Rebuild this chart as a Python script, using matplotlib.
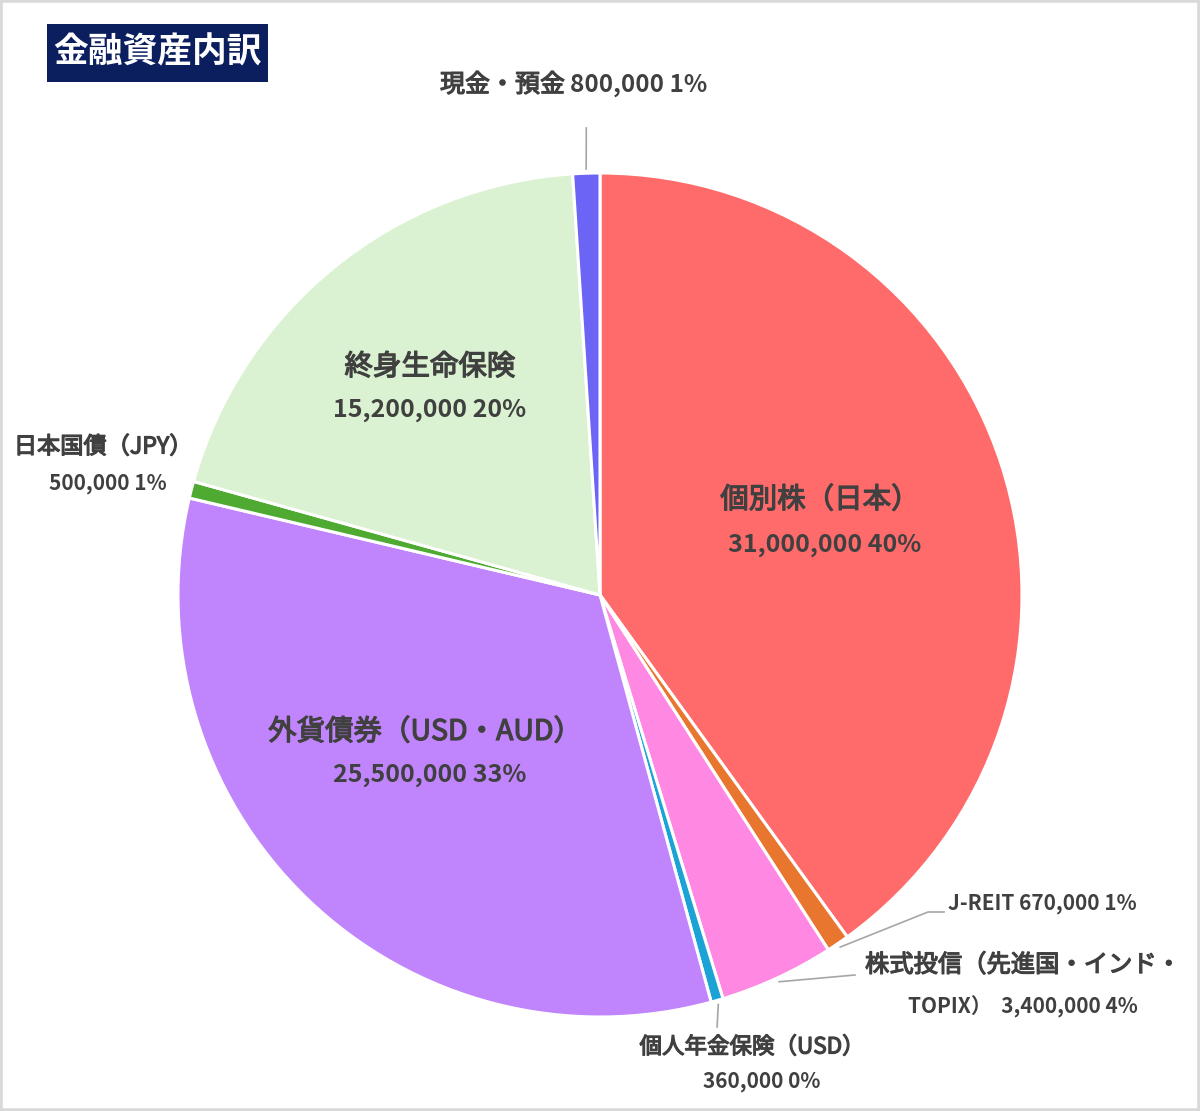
import numpy as np
import matplotlib
matplotlib.use("Agg")
import matplotlib.pyplot as plt
import matplotlib.patheffects as pe
from matplotlib.patches import Rectangle

plt.rcParams['font.family'] = ['Noto Sans CJK JP', 'DejaVu Sans']

# data (clockwise from 12 o'clock)
names = ["個別株（日本）", "J-REIT", "株式投信（先進国・インド・", "個人年金保険（USD）",
         "外貨債券（USD・AUD）", "日本国債（JPY）", "終身生命保険", "現金・預金"]
values = [31000000, 670000, 3400000, 360000, 25500000, 500000, 15200000, 800000]
colors = ["#FF6B6B", "#E8762E", "#FF88E3", "#1CA3D6", "#C084FC", "#4FAA32", "#DAF2D1", "#6C64F4"]

total = sum(values)
pcts = [round(v / total * 100) for v in values]

W, H = 1200, 1111
fig = plt.figure(figsize=(W / 100, H / 100), dpi=100)
ax = fig.add_axes([0, 0, 1, 1])

cx, cy, r = 600, H - 595, 422
wedges, _ = ax.pie(values, colors=colors, startangle=90, counterclock=False,
                   center=(cx, cy), radius=r, frame=True,
                   wedgeprops=dict(edgecolor="white", linewidth=2.2))
ax.set_xlim(0, W)
ax.set_ylim(0, H)
ax.set_aspect("equal")
ax.axis("off")

txt = "#404040"
thick = [pe.withStroke(linewidth=0.9, foreground=txt)]


def py(y):
    return H - y


def name_text(x, y, s, fs, ha="center"):
    ax.text(x, py(y), s, ha=ha, va="center", fontsize=fs, color=txt, path_effects=thick)


def num_text(x, y, s, fs, ha="center"):
    ax.text(x, py(y), s, ha=ha, va="center", fontsize=fs, color=txt, fontweight="bold")


def numstr(i):
    return f"{values[i]:,} {pcts[i]}%"


def edge_point(i, k=1.0):
    w = wedges[i]
    a = np.deg2rad((w.theta1 + w.theta2) / 2)
    return cx + r * k * np.cos(a), cy + r * k * np.sin(a)


def leader(i, pts):
    x0, y0 = edge_point(i, 1.01)
    xs = [x0] + [p[0] for p in pts]
    ys = [y0] + [py(p[1]) for p in pts]
    ax.plot(xs, ys, color="#A6A6A6", lw=1.2)


# inside labels
name_text(820, 500, names[0], 20.5)
num_text(825, 545, numstr(0), 18)
name_text(430, 367, names[6], 20.5)
num_text(430, 410, numstr(6), 18)
name_text(425, 732, names[4], 20.5)
num_text(430, 775, numstr(4), 18)

# outside labels
name_text(440, 85, names[7], 18, ha="left")
num_text(570, 85, numstr(7), 17.5, ha="left")
leader(7, [(edge_point(7)[0], 128)])

num_text(948, 904, names[1] + " " + numstr(1), 15, ha="left")
leader(1, [(928, 912), (944, 912)])

name_text(865, 965, names[2], 17.5, ha="left")
num_text(1138, 1007, "TOPIX）  " + numstr(2), 15, ha="right")
leader(2, [(855, 975)])

name_text(752, 1047, names[3], 16.2)
num_text(762, 1082, numstr(3), 15)
leader(3, [(edge_point(3)[0], 1027)])

name_text(103, 447, names[5], 16.7)
num_text(108, 484, numstr(5), 15)

# title box
fig.patches.append(Rectangle((47 / W, 1 - 82 / H), 221 / W, 58 / H, transform=fig.transFigure,
                             facecolor="#0B1F5E", edgecolor="none"))
fig.text(157 / W, 1 - 52 / H, "金融資産内訳", ha="center", va="center", fontsize=25,
         color="white", fontweight="bold")

# outer frame
fig.patches.append(Rectangle((0, 0), 1, 1, transform=fig.transFigure, facecolor="none",
                             edgecolor="#D9D9D9", linewidth=4))

fig.savefig("out.png", dpi=100, facecolor="white")
